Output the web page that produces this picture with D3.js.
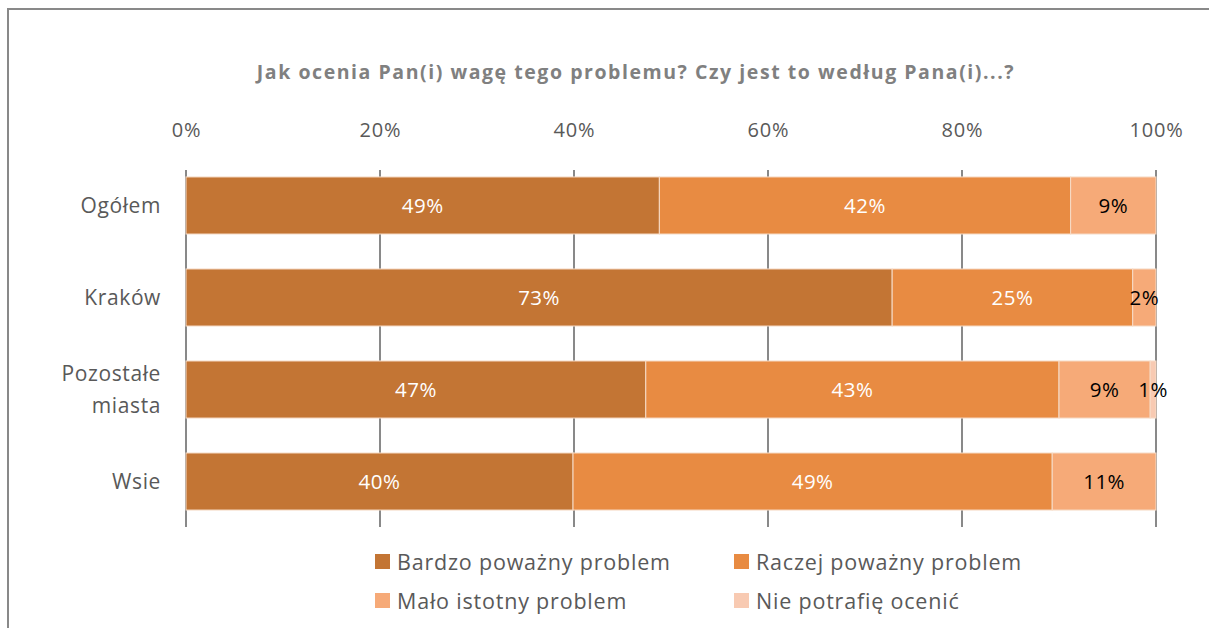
<!DOCTYPE html>
<html>
<head>
<meta charset="utf-8">
<script src="https://cdn.jsdelivr.net/npm/d3@7"></script>
<style>
  body { margin: 0; background: #fff; }
  svg { display: block; font-family: 'Open Sans', sans-serif; }
</style>
</head>
<body>
<div id="content"></div>
<script>
// Data
const categories = ['Ogółem', 'Kraków', 'Pozostałe miasta', 'Wsie'];
const seriesNames = ['Bardzo poważny problem', 'Raczej poważny problem', 'Mało istotny problem', 'Nie potrafię ocenić'];
const bardzo = [48.8, 72.8, 47.4, 39.9];
const raczej = [42.4, 24.8, 42.6, 49.4];
const malo = [8.8, 2.4, 9.4, 10.7];
const nie = [0, 0, 0.6, 0];
const tickValues = [0, 20, 40, 60, 80, 100];
const title = 'Jak ocenia Pan(i) wagę tego problemu? Czy jest to według Pana(i)...?';

const colors = ['#C37534', '#E88B42', '#F6AA78', '#F8CAB2'];
const labelColors = ['#fff', '#fff', '#000', '#000'];

function render(divElement) {
  let width = 1209;
  let height = 628;

  let svg = d3.select(divElement)
              .append('svg')
              .attr('width', width)
              .attr('height', height);

  // Frame
  svg.append('path')
     .attr('d', 'M8,628 L8,9 L1209,9')
     .attr('fill', 'none')
     .attr('stroke', '#898989')
     .attr('stroke-width', 2);

  // Title
  svg.append('text')
     .attr('x', 636)
     .attr('y', 79)
     .attr('text-anchor', 'middle')
     .attr('fill', '#808080')
     .attr('font-weight', 'bold')
     .attr('font-size', 19.5)
     .attr('letter-spacing', 1.55)
     .text(title);

  // Scales
  let x = d3.scaleLinear()
            .domain([0, 100])
            .range([186, 1156]);

  let y = d3.scaleBand()
            .domain(categories)
            .range([142, 545])
            .padding(0.38);

  // Gridlines
  svg.append('g')
     .selectAll('line')
     .data(tickValues)
     .enter()
     .append('line')
     .attr('x1', d => x(d))
     .attr('x2', d => x(d))
     .attr('y1', 170)
     .attr('y2', 527)
     .attr('stroke', '#898989')
     .attr('stroke-width', 2);

  // Top axis labels
  let axis = svg.append('g')
                .attr('transform', 'translate(0,137)')
                .call(d3.axisTop(x).tickValues(tickValues).tickSize(0).tickPadding(0).tickFormat(d => d + '%'));
  axis.select('.domain').remove();
  axis.selectAll('text')
      .attr('font-family', "'Open Sans', sans-serif")
      .attr('font-size', 20)
      .attr('letter-spacing', 0.8)
      .attr('fill', '#595959');

  // Stack
  let rows = categories.map((c, i) => ({cat: c, values: [bardzo[i], raczej[i], malo[i], nie[i]]}));
  let stacked = [];
  rows.forEach(r => {
    let acc = 0;
    r.values.forEach((v, k) => {
      stacked.push({cat: r.cat, k: k, v: v, x0: acc, x1: acc + v});
      acc += v;
    });
  });

  svg.append('g')
     .selectAll('rect')
     .data(stacked.filter(d => d.v > 0))
     .enter()
     .append('rect')
     .attr('x', d => x(d.x0))
     .attr('y', d => y(d.cat))
     .attr('width', d => x(d.x1) - x(d.x0))
     .attr('height', y.bandwidth())
     .attr('fill', d => colors[d.k])
     .attr('stroke', '#F6DCC8')
     .attr('stroke-width', 1);

  // Data labels
  svg.append('g')
     .selectAll('text')
     .data(stacked.filter(d => d.v > 0))
     .enter()
     .append('text')
     .attr('x', d => x((d.x0 + d.x1) / 2))
     .attr('y', d => y(d.cat) + y.bandwidth() / 2)
     .attr('dy', '0.35em')
     .attr('text-anchor', 'middle')
     .attr('font-size', 20.5)
     .attr('letter-spacing', 0.5)
     .attr('fill', d => labelColors[d.k])
     .text(d => Math.round(d.v) + '%');

  // Category labels
  let cats = svg.append('g')
                .selectAll('text')
                .data(categories)
                .enter()
                .append('text')
                .attr('text-anchor', 'end')
                .attr('font-size', 21)
                .attr('letter-spacing', 0.6)
                .attr('fill', '#595959');
  cats.each(function(d) {
    let words = d.split(' ');
    let cy = y(d) + y.bandwidth() / 2;
    let lineH = 32;
    let start = cy - (words.length - 1) * lineH / 2;
    words.forEach((w, i) => {
      d3.select(this).append('tspan')
        .attr('x', 161)
        .attr('y', start + i * lineH)
        .attr('dy', '0.35em')
        .text(w);
    });
  });

  // Legend
  let legendPos = [[375, 554], [734, 554], [375, 593], [734, 593]];
  let legend = svg.append('g')
                  .selectAll('g')
                  .data(seriesNames)
                  .enter()
                  .append('g')
                  .attr('transform', (d, i) => 'translate(' + legendPos[i][0] + ',' + legendPos[i][1] + ')');
  legend.append('rect')
        .attr('width', 15)
        .attr('height', 15)
        .attr('fill', (d, i) => colors[i]);
  legend.append('text')
        .attr('x', 22)
        .attr('y', 8)
        .attr('dy', '0.35em')
        .attr('font-size', 21.5)
        .attr('letter-spacing', 0.8)
        .attr('fill', '#595959')
        .text(d => d);
}

render('#content');
</script>
</body>
</html>
